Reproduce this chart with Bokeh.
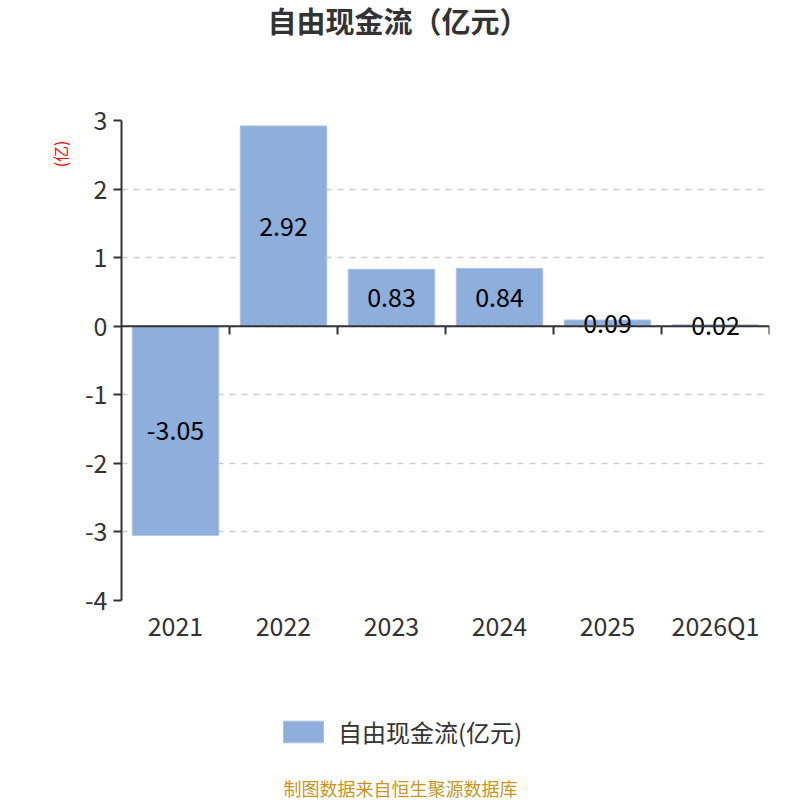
import math
from bokeh.plotting import figure
from bokeh.layouts import column
from bokeh.models import (ColumnDataSource, Legend, LegendItem, Span, Title,
                          FixedTicker, Range1d, FactorRange, Label)
from bokeh.transform import dodge
from bokeh.embed import file_html
from bokeh.resources import INLINE
from bokeh.core.properties import value

categories = ["2021", "2022", "2023", "2024", "2025", "2026Q1"]
values = [-3.05, 2.92, 0.83, 0.84, 0.09, 0.02]
labels = ["-3.05", "2.92", "0.83", "0.84", "0.09", "0.02"]
y_ticks = [-4, -3, -2, -1, 0, 1, 2, 3]
series_name = "自由现金流(亿元)"

FONT = "Noto Sans CJK SC"
BAR = "#8eaedb"
BAR_EDGE = "#a9c1e6"

src = ColumnDataSource(dict(cat=categories, val=values, lab=labels,
                            mid=[v / 2 for v in values],
                            zero=[0] * len(values),
                            tick_end=[-0.12] * len(values)))

p = figure(frame_width=648, frame_height=480, x_range=FactorRange(*categories),
           y_range=Range1d(-4, 3), output_backend="svg", toolbar_location=None,
           min_border_left=121, min_border_right=23, min_border_top=120,
           min_border_bottom=60)
p.outline_line_color = None
p.background_fill_color = "white"
p.border_fill_color = "white"

r = p.vbar(x="cat", top="val", bottom=0, width=0.8, source=src,
           fill_color=BAR, line_color=BAR_EDGE, line_width=1)

p.text(x="cat", y="mid", text="lab", source=src, text_align="center",
       text_baseline="middle", text_font=value(FONT), text_font_size="25px",
       text_color="#000000")

# zero line with category boundary ticks
p.add_layout(Span(location=0, dimension="width", line_color="#333333", line_width=2))
p.segment(x0=dodge("cat", 0.5, range=p.x_range), y0="zero",
          x1=dodge("cat", 0.5, range=p.x_range), y1="tick_end",
          source=src, line_color="#333333", line_width=2)

# y axis
p.yaxis.ticker = FixedTicker(ticks=y_ticks)
p.yaxis.major_label_overrides = {t: str(t) for t in y_ticks}
p.yaxis.axis_line_color = "#333333"
p.yaxis.axis_line_width = 2
p.yaxis.major_tick_line_color = "#333333"
p.yaxis.major_tick_line_width = 2
p.yaxis.major_tick_out = 8
p.yaxis.major_tick_in = 0
p.yaxis.minor_tick_line_color = None
p.yaxis.major_label_text_font = FONT
p.yaxis.major_label_text_font_size = "25px"
p.yaxis.major_label_text_color = "#333333"
p.yaxis.major_label_standoff = 6

p.ygrid.ticker = FixedTicker(ticks=y_ticks)
p.ygrid.grid_line_color = "#cccccc"
p.ygrid.grid_line_dash = "6 6"
p.ygrid.grid_line_width = 1.5
p.xgrid.grid_line_color = None

# x axis
p.xaxis.axis_line_color = None
p.xaxis.major_tick_line_color = None
p.xaxis.major_tick_out = 0
p.xaxis.major_tick_in = 0
p.xaxis.minor_tick_line_color = None
p.xaxis.major_label_text_font = FONT
p.xaxis.major_label_text_font_size = "25px"
p.xaxis.major_label_text_color = "#333333"
p.xaxis.major_label_standoff = 6

# title (spacer closest to the frame, then the title itself)
p.add_layout(Title(text=" ", text_font_size="1px", standoff=82), "above")
p.add_layout(Title(text="自由现金流（亿元）", align="left", offset=146,
                   vertical_align="bottom", text_font=FONT,
                   text_font_size="29px", text_font_style="bold",
                   text_color="#333333", standoff=-10), "above")

# y unit label
p.add_layout(Title(text="(亿)", align="right", text_font=FONT,
                   text_font_size="16px", text_font_style="normal",
                   text_color="#ff0000", offset=20, standoff=20), "left")

# bottom strip: legend and source note (its y range lies above all bars,
# so the series renderer here only supplies the legend swatch)
p2 = figure(frame_width=648, frame_height=140, output_backend="svg",
            toolbar_location=None, min_border_left=121, min_border_right=23,
            min_border_top=0, min_border_bottom=0,
            x_range=p.x_range, y_range=Range1d(10, 11))
p2.outline_line_color = None
p2.axis.visible = False
p2.grid.visible = False
p2.border_fill_color = "white"
p2.background_fill_color = "white"
lr = p2.vbar(x="cat", top="val", bottom=0, width=0.8, source=src,
             fill_color=BAR, line_color=BAR_EDGE)

legend = Legend(items=[LegendItem(label=series_name, renderers=[lr])],
                orientation="horizontal", location=(157, 51),
                glyph_width=50, glyph_height=27, label_height=27,
                label_text_font=FONT, label_text_baseline="middle",
                label_text_font_size="24px", label_text_color="#333333",
                border_line_color=None, background_fill_alpha=0,
                margin=0, padding=0, spacing=10, label_standoff=10)
p2.add_layout(legend, "center")

p2.add_layout(Label(x=279, y=13, x_units="screen", y_units="screen",
                    text="制图数据来自恒生聚源数据库", text_align="center",
                    text_baseline="middle", text_font=FONT,
                    text_font_size="18px", text_color="#c8961e"))

layout = column(p, p2, spacing=0)
open("out.html", "w").write(file_html(layout, INLINE))
